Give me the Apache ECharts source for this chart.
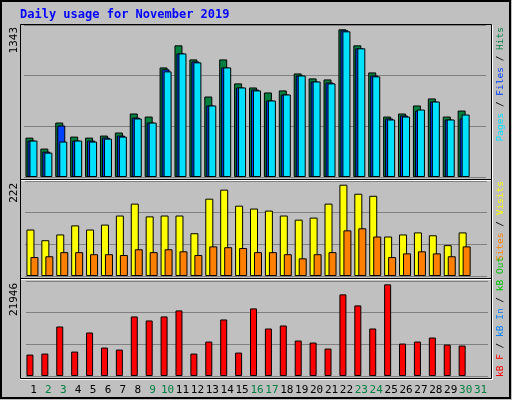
<!DOCTYPE html>
<html><head><meta charset="utf-8">
<script src="https://cdn.jsdelivr.net/npm/echarts@6/dist/echarts.min.js"></script>
<style>html,body{margin:0;padding:0;background:#c0c0c0}#c{width:512px;height:400px}</style>
</head><body><div id="c"></div>
<script>
const days = ['1','2','3','4','5','6','7','8','9','10','11','12','13','14','15','16','17','18','19','20','21','22','23','24','25','26','27','28','29','30','31'];
const weekend = ['2','3','9','10','16','17','23','24','30','31'];
const hits  = [348,251,481,357,348,366,393,561,534,968,1163,1039,711,1039,827,791,747,765,915,871,862,1305,1163,924,534,561,632,694,534,587,null];
const files = [322,224,455,322,322,348,366,525,481,951,1092,1021,632,968,791,773,676,729,897,844,835,1296,1137,897,517,543,587,667,508,517,null];
const pages = [322,215,313,322,313,339,357,517,481,933,1092,1013,632,968,791,765,676,729,897,844,827,1287,1137,889,508,534,596,667,508,552,null];
const visits = [113,87,101,123,113,125,147,176,145,147,147,104,188,210,171,164,159,147,137,142,176,222,200,195,96,101,106,99,75,106,null];
const sites  = [46,48,58,58,53,53,51,65,58,65,60,51,72,70,68,58,58,53,43,53,58,111,116,96,46,55,60,55,48,72,null];
const kbytes = [5126,5367,11855,5847,10413,6809,6328,14258,13297,14258,15700,5367,8250,13537,5607,16180,11374,12095,8491,8010,6568,19544,16901,11374,21946,7770,8250,9212,7529,7289,null];
const maxLabels = ['1343','222','21946'];

const mono = 'DejaVu Sans Mono';
const ch = echarts.init(document.getElementById('c'));
const grids = [
  {left:24, width:462, top:25, height:152},
  {left:25, width:462, top:181, height:95},
  {left:26, width:462, top:281, height:95}
];
function xa(i, show){
  return {type:'category', gridIndex:i, data:days, axisLine:{show:false}, axisTick:{show:false},
    axisLabel:{show:show, interval:0, margin:9, fontFamily:mono, fontSize:11,
      formatter:v=> weekend.includes(v)?'{w|'+v+'}':'{n|'+v+'}',
      rich:{w:{color:'#008040',fontFamily:mono,fontSize:11},n:{color:'#000',fontFamily:mono,fontSize:11}}},
    splitLine:{show:false}};
}
function ya(i,max){
  return {type:'value', gridIndex:i, min:0, max:max, interval:max/3, axisLabel:{show:false},
    axisLine:{show:false}, axisTick:{show:false}, splitLine:{lineStyle:{color:'#808080',width:1}}};
}
const bs = {borderColor:'#000', borderWidth:1};
function bar(name,data,color,xi,w,gap){
  return {name, type:'bar', data, xAxisIndex:xi, yAxisIndex:xi, barWidth:w, barGap:gap,
    itemStyle:Object.assign({color},bs), animation:false, silent:true};
}
const fs = 9.5;
function st(c){ return {fill:c, fontFamily:mono, fontSize:fs}; }
function rt(x,y,txt,rich,align,size){
  return {type:'text', x, y, rotation:Math.PI/2, silent:true,
    style:{text:txt, fontFamily:mono, fontSize:size||fs, rich, fill:'#000', align, verticalAlign:'middle'}};
}
ch.setOption({
  backgroundColor:'#c0c0c0',
  animation:false,
  grid:grids,
  xAxis:[xa(0,false),xa(1,false),xa(2,true)],
  yAxis:[ya(0,1343),ya(1,231),ya(2,22748)],
  series:[
    bar('Hits',hits,'#008040',0,8,'-75%'),
    bar('Files',files,'#0040ff',0,8,'-75%'),
    bar('Pages',pages,'#00e0ff',0,8,'-75%'),
    bar('Visits',visits,'#ffff00',1,8,'-50%'),
    bar('Sites',sites,'#ff8000',1,8,'-50%'),
    bar('kB F',kbytes,'#ff0000',2,7,'0%'),
    {type:'bar', data:days.map(()=>null), xAxisIndex:2, yAxisIndex:2, barWidth:7, barGap:'0%', silent:true}
  ],
  graphic:[
    {type:'rect', shape:{x:1,y:1,width:509,height:397}, style:{fill:'none',stroke:'#000',lineWidth:2}, silent:true},
    {type:'rect', shape:{x:20.5,y:24.5,width:471,height:354}, style:{fill:'none',stroke:'#000',lineWidth:1}, silent:true},
    {type:'line', shape:{x1:21,y1:179.5,x2:491,y2:179.5}, style:{stroke:'#000',lineWidth:1}},
    {type:'line', shape:{x1:21,y1:180.5,x2:491,y2:180.5}, style:{stroke:'#fff',lineWidth:1}},
    {type:'line', shape:{x1:21,y1:278.5,x2:491,y2:278.5}, style:{stroke:'#000',lineWidth:1}},
    {type:'line', shape:{x1:21,y1:279.5,x2:491,y2:279.5}, style:{stroke:'#fff',lineWidth:1}},
    {type:'line', shape:{x1:492.5,y1:25,x2:492.5,y2:379}, style:{stroke:'#fff',lineWidth:1}},
    {type:'line', shape:{x1:20,y1:379.5,x2:493,y2:379.5}, style:{stroke:'#fff',lineWidth:1}},
    {type:'text', x:20, y:9, style:{text:'Daily usage for November 2019', fontFamily:mono, fontSize:12, fontWeight:'bold', fill:'#0000ff'}},
    rt(14,27,maxLabels[0],{},'right',11),
    rt(14,183,maxLabels[1],{},'right',11),
    rt(14,283,maxLabels[2],{},'right',11),
    rt(501,27,'{p|Pages}{s| / }{f|Files}{s| / }{h|Hits}',{p:st('#00e0ff'),f:st('#0040ff'),h:st('#008040'),s:st('#000')},'right'),
    rt(501,181,'{o|Sites}{s| / }{v|Visits}',{o:st('#ff8000'),v:st('#ffff00'),s:st('#000')},'right'),
    rt(501,377,'{k|kB F}{s| / }{i|kB In}{s| / }{g|kB Out}',{k:st('#ff0000'),i:st('#0080ff'),g:st('#00c000'),s:st('#000')},'left')
  ]
});
</script></body></html>
